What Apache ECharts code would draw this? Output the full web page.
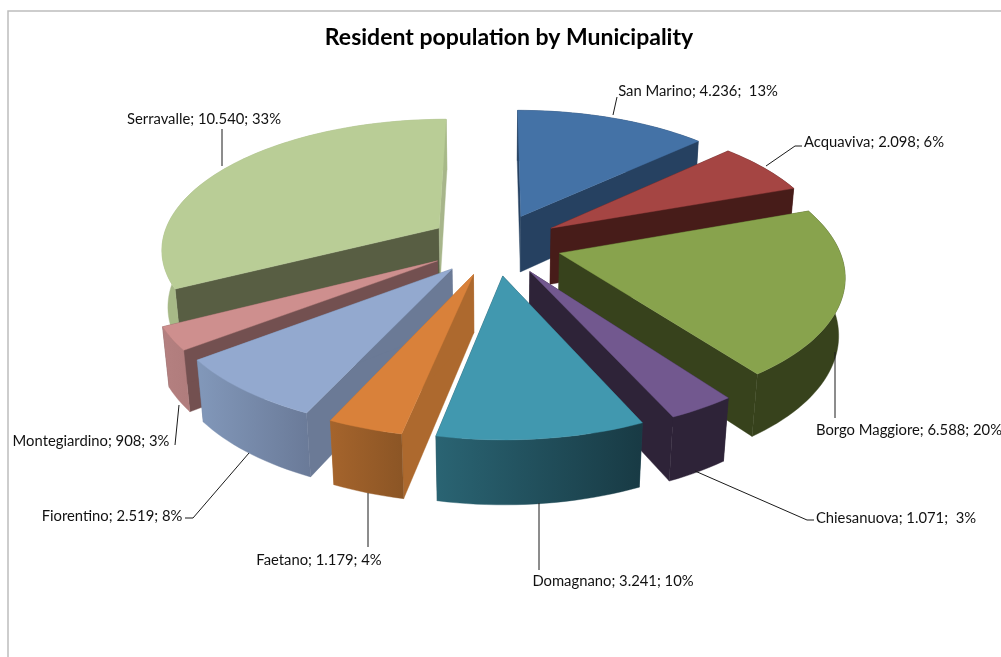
<!DOCTYPE html>
<html><head><meta charset="utf-8">
<style>html,body{margin:0;padding:0;background:#fff}#c{width:1001px;height:657px}</style>
<script src="https://cdn.jsdelivr.net/npm/echarts@6/dist/echarts.min.js"></script>
</head><body><div id="c"></div>
<script>
// ---- data ----
var municipalities = ['San Marino','Acquaviva','Borgo Maggiore','Chiesanuova','Domagnano','Faetano','Fiorentino','Montegiardino','Serravalle'];
var residents = [4236,2098,6588,1071,3241,1179,2519,908,10540];
var residentLabels = ['4.236; ','2.098;','6.588;','1.071; ','3.241;','1.179;','2.519;','908;','10.540;'];
var percentLabels = ['13%','6%','20%','3%','10%','4%','8%','3%','33%'];
// ---- styles ----
var topColors = ['#4472A6','#A54543','#88A34D','#72588F','#4198AF','#D9813A','#93A9CF','#CE8F8E','#B9CD96'];
var cutColors = ['#264161','#471C19','#37421C','#2E2338','#1E4553','#AD692E','#6B7A96','#735050','#585E43'];
var endCutColors = ['#264161','#471C19','#37421C','#2E2338','#1E4553','#AD692E','#6B7A96','#735050','#A7B58A'];
var rimFrom   = ['#264161','#471C19','#37421C','#2E2338','#2A6473','#A5642C','#8298BA','#B48080','#A7B987'];
var rimTo     = ['#264161','#471C19','#37421C','#2E2338','#183A44','#8B5525','#6A7A98','#B07C7C','#A7B987'];
// label centre and leader-line layout
var labelPos = [[698,91],[874,142],[909,430],[896,518],[613,581],[319,560],[112,516],[91,441],[204,119]];
var leaders = [
 [[613,115],[617,97]],
 [[766,166],[795,146],[802,146]],
 [[835,352],[835,418]],
 [[695,471],[807,520],[814,520]],
 [[539,503],[539,570]],
 [[368,493],[368,547]],
 [[249,453],[193,518],[185,518]],
 [[179,405],[175,445]],
 [[222,166],[222,129]]
];
// ---- projection of the tilted, exploded pie ----
var CX=495, CY=244, F=278, D=6, S=0.465, C=Math.sqrt(1-S*S), EXPLODE=0.24, H=0.235;
function proj(x,y,z){
  var v=y*S-z*C, w=y*C+z*S, s=D/(D-w);
  return [CX+F*x*s, CY+F*v*s];
}
var total = residents.reduce(function(a,b){return a+b;},0);
var FONT = 'Lato, "Open Sans", sans-serif';

function renderSlice(params, api){
  var i = params.dataIndex, before = 0;
  for (var k=0;k<i;k++) before += residents[k];
  var a0 = before/total*2*Math.PI, a1 = (before+api.value(0))/total*2*Math.PI, mid=(a0+a1)/2;
  var ox = EXPLODE*Math.sin(mid), oy = -EXPLODE*Math.cos(mid); // y towards viewer
  var n = Math.max(4, Math.ceil((a1-a0)/0.03));
  var topArc=[], botArc=[];
  for (var j=0;j<=n;j++){
    var a=a0+(a1-a0)*j/n, x=ox+Math.sin(a), y=oy-Math.cos(a);
    topArc.push(proj(x,y,0)); botArc.push(proj(x,y,-H));
  }
  var apexT=proj(ox,oy,0), apexB=proj(ox,oy,-H);
  var rank = Math.round((oy/EXPLODE+1)*1000);
  var lin = {type:'linear',x:0,y:0,x2:1,y2:0,colorStops:[{offset:0,color:rimFrom[i]},{offset:1,color:rimTo[i]}]};
  function poly(pts,fill,z){ return {type:'polygon',z2:rank+z,shape:{points:pts},style:{fill:fill,stroke:fill,lineWidth:0.4}}; }
  return {type:'group',children:[
    poly([apexT,topArc[0],botArc[0],apexB],cutColors[i],0),
    poly([apexT,topArc[n],botArc[n],apexB],endCutColors[i],0),
    poly(topArc.concat(botArc.slice().reverse()),lin,1),
    poly([apexT].concat(topArc),topColors[i],2),
    {type:'polyline',z2:5000,shape:{points:leaders[i]},style:{stroke:'#1a1a1a',lineWidth:1,fill:null}},
    {type:'text',z2:5001,style:{x:labelPos[i][0],y:labelPos[i][1],
      text:municipalities[i]+'; '+residentLabels[i]+' '+percentLabels[i],
      fill:'#111',font:'14.8px '+FONT,align:'center',verticalAlign:'middle'}}
  ]};
}

var chart = echarts.init(document.getElementById('c'),null,{renderer:'canvas'});
chart.setOption({
  animation:false,
  backgroundColor:'#fff',
  title:{text:'Resident population by Municipality',left:504,top:33,textAlign:'center',textVerticalAlign:'middle',
    textStyle:{fontFamily:FONT,fontWeight:'bold',fontSize:23,color:'#000'}},
  graphic:[{type:'polyline',shape:{points:[[8,657],[8,11],[1001,11]]},style:{stroke:'#bdbdbd',lineWidth:1.5,fill:null}}],
  series:[{type:'custom',coordinateSystem:'none',renderItem:renderSlice,
    data:residents.map(function(v,i){return {name:municipalities[i],value:[v]};})}]
});
</script></body></html>
